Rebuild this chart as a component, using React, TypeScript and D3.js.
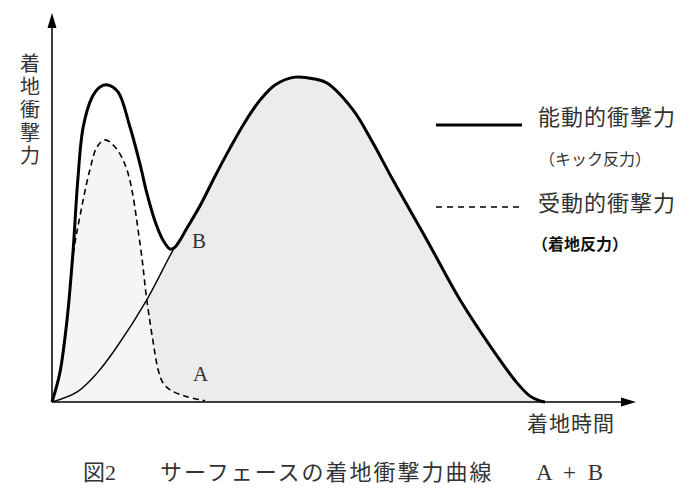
import * as d3 from "d3";

// B: 能動的衝撃力 (active impact, kick reaction)
const timeB = [0, 4.2, 7.5, 10.8, 15.8, 20.2, 22.5, 24.67, 27.17, 29.67, 32.17, 34.67, 37.17, 40.5, 43.83, 45.83, 50.17, 53.5, 56.83, 62.5, 68, 73.5, 77.5, 79.67, 81.33, 82.17];
const forceB = [0, 2.6, 7.4, 14.1, 26.2, 39.0, 44.6, 50.3, 57.9, 65.1, 71.8, 77.4, 81.3, 83.3, 82.8, 81.8, 74.9, 66.4, 56.9, 41.5, 26.2, 13.3, 4.9, 1.5, 0.3, 0];

// A: 受動的衝撃力 (passive impact, landing reaction)
const timeA = [0, 1.3, 2.5, 3.6, 4.7, 6.3, 7.5, 8.8, 10.5, 12.5, 14.7, 15.8, 16.8, 17.7, 18.5, 19.7, 22.2, 25.5];
const forceA = [0, 7.4, 21.0, 38.5, 48.0, 59.5, 65.4, 67.2, 65.4, 59.5, 40.3, 26.2, 15.9, 8.2, 4.9, 3.1, 1.5, 0.3];

// A + B, first hump (after it the sum runs along B)
const timeSum = [0, 1.3, 2.5, 3.5, 4.3, 5.2, 6.7, 8, 9.3, 11, 13, 14.7, 15.8, 17.2, 18.5, 19.7, 20.5];
const forceSum = [0, 7.4, 21.0, 38.5, 56.9, 70.5, 78.2, 80.8, 81.3, 79.5, 70.5, 60.8, 53.6, 46.2, 41.5, 39.2, 39.7];

const FONT = "'Liberation Serif', 'Noto Sans CJK JP', serif";
const JFONT = "'Noto Sans CJK JP', sans-serif";

type Pt = [number, number];

const App = () => {
  const width = 700;
  const height = 500;
  const x = d3.scaleLinear().domain([0, 100]).range([52, 652]);
  const y = d3.scaleLinear().domain([0, 100]).range([402, 12]);

  const ptsB: Pt[] = timeB.map((t, i) => [t, forceB[i]]);
  const ptsA: Pt[] = timeA.map((t, i) => [t, forceA[i]]);
  const lastHump = timeSum[timeSum.length - 1];
  const ptsSum: Pt[] = [
    ...timeSum.map((t, i) => [t, forceSum[i]] as Pt),
    ...ptsB.filter((p) => p[0] > lastHump + 1),
  ];

  const curve = d3.curveCatmullRom.alpha(0.5);
  const line = d3
    .line<Pt>()
    .x((d) => x(d[0]))
    .y((d) => y(d[1]))
    .curve(curve);
  const area = d3
    .area<Pt>()
    .x((d) => x(d[0]))
    .y0(y(0))
    .y1((d) => y(d[1]))
    .curve(curve);

  const x0 = x(0);
  const y0 = y(0);

  return (
    <svg
      width={width}
      height={height}
      style={{ position: "absolute", left: 0, top: 0, background: "#fff" }}
    >
      {/* fills */}
      <path d={area(ptsB) ?? ""} fill="#ececec" />
      <path d={area(ptsA) ?? ""} fill="#f5f5f5" />

      {/* curves */}
      <path d={line(ptsB) ?? ""} fill="none" stroke="#000" strokeWidth={1.4} />
      <path
        d={line(ptsA) ?? ""}
        fill="none"
        stroke="#000"
        strokeWidth={1.6}
        strokeDasharray="6,4"
      />
      <path d={line(ptsSum) ?? ""} fill="none" stroke="#000" strokeWidth={3} />

      {/* axes */}
      <line x1={x0} y1={y0} x2={x0} y2={27} stroke="#000" strokeWidth={1.5} />
      <polygon points={`${x0},13 ${x0 - 4.5},28 ${x0 + 4.5},28`} fill="#000" />
      <line x1={x0} y1={y0} x2={623} y2={y0} stroke="#000" strokeWidth={1.5} />
      <polygon points={`636,${y0} 621,${y0 - 4.5} 621,${y0 + 4.5}`} fill="#000" />

      {/* axis labels */}
      <text
        x={30}
        y={53}
        writingMode="vertical-rl"
        fontFamily={JFONT}
        fontSize={20}
        letterSpacing={3}
        fill="#333"
      >
        着地衝撃力
      </text>
      <text x={527} y={431} fontFamily={JFONT} fontSize={21} letterSpacing={1} fill="#333">
        着地時間
      </text>

      {/* curve labels */}
      <text x={192} y={248} fontFamily={FONT} fontSize={21} fill="#333">
        B
      </text>
      <text x={193} y={381} fontFamily={FONT} fontSize={21} fill="#333">
        A
      </text>

      {/* legend */}
      <line x1={436} y1={125} x2={522} y2={125} stroke="#000" strokeWidth={3} />
      <text x={538} y={125} fontFamily={JFONT} fontSize={22} letterSpacing={1} fill="#333">
        能動的衝撃力
      </text>
      <text x={539} y={165} fontFamily={JFONT} fontSize={16} fill="#333">
        （キック反力）
      </text>
      <line
        x1={436}
        y1={207}
        x2={522}
        y2={207}
        stroke="#000"
        strokeWidth={1.6}
        strokeDasharray="6,5"
      />
      <text x={538} y={211} fontFamily={JFONT} fontSize={22} letterSpacing={1} fill="#333">
        受動的衝撃力
      </text>
      <text x={532} y={250} fontFamily={JFONT} fontSize={16} fontWeight="bold" fill="#111">
        （着地反力）
      </text>

      {/* caption */}
      <text x={83} y={480} fontFamily={FONT} fontSize={22} fill="#333">
        図2
      </text>
      <text x={160} y={480} fontFamily={JFONT} fontSize={22} letterSpacing={2} fill="#333">
        サーフェースの着地衝撃力曲線
      </text>
      <text x={536} y={480} fontFamily={FONT} fontSize={23} letterSpacing={3} fill="#333">
        A + B
      </text>
    </svg>
  );
};

export default App;
